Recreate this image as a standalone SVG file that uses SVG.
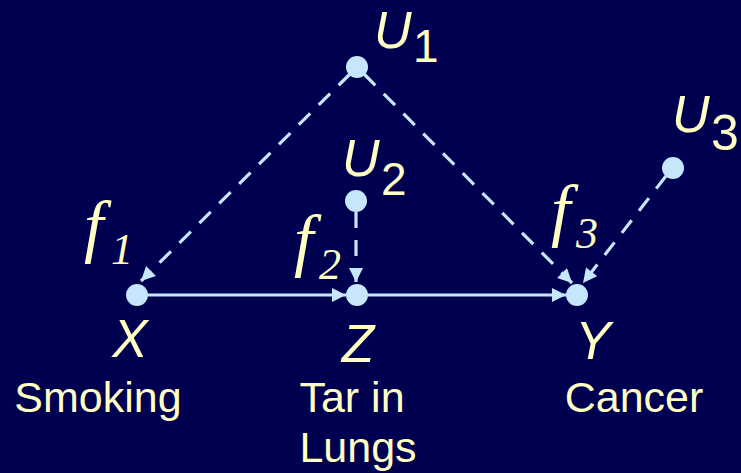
<svg xmlns="http://www.w3.org/2000/svg" width="741" height="473" viewBox="0 0 741 473">
<defs>
<style>
.node{fill:#c6e6fb}
.e{stroke:#c6e6fb;stroke-width:3.2;fill:none}
.d{stroke-dasharray:16 12}
.lab{fill:#ffffc4;font-family:"Liberation Sans",Arial,sans-serif}
.it{font-style:italic}
.f{fill:#ffffc4;font-family:"Liberation Serif","Times New Roman",serif;font-style:italic}
</style>
<marker id="ah" viewBox="0 0 10 10" refX="10" refY="5" markerWidth="4.8" markerHeight="4.4" orient="auto" markerUnits="strokeWidth">
<path d="M0,0 L10,5 L0,10 z" fill="#c6e6fb"/>
</marker>
</defs>
<rect width="741" height="473" fill="#000050"/>
<g id="connectors">
<line class="e d" x1="350" y1="74" x2="141" y2="281" marker-end="url(#ah)"/>
<line class="e d" x1="364" y1="74" x2="572" y2="283" marker-end="url(#ah)"/>
<line class="e d" x1="666" y1="176" x2="583" y2="283" marker-end="url(#ah)"/>
<line class="e d" x1="356" y1="212" x2="356" y2="282" marker-end="url(#ah)"/>
<line class="e" x1="148" y1="295" x2="346" y2="295" marker-end="url(#ah)"/>
<line class="e" x1="368" y1="295" x2="566" y2="295" marker-end="url(#ah)"/>
</g>
<g id="U1">
<circle class="node" cx="357" cy="67" r="11"/>
<text class="lab it" x="374" y="48" font-size="52">U</text>
<text class="lab" x="413" y="62" font-size="46">1</text>
</g>
<g id="U2">
<circle class="node" cx="356" cy="201" r="11"/>
<text class="lab it" x="342" y="176" font-size="52">U</text>
<text class="lab" x="381" y="195" font-size="46">2</text>
</g>
<g id="U3">
<circle class="node" cx="673" cy="168" r="11"/>
<text class="lab it" x="672" y="132" font-size="52">U</text>
<text class="lab" x="711" y="150" font-size="50">3</text>
</g>
<g id="X">
<circle class="node" cx="137" cy="295" r="11"/>
<text class="f" x="84" y="249" font-size="70">f</text>
<text class="f" x="111" y="264" font-size="44">1</text>
<text class="lab it" x="130" y="357" font-size="53" text-anchor="middle">X</text>
<text class="lab" x="98" y="412" font-size="43" text-anchor="middle">Smoking</text>
</g>
<g id="Z">
<circle class="node" cx="357" cy="295" r="11"/>
<text class="f" x="294" y="263" font-size="70">f</text>
<text class="f" x="319" y="279" font-size="44">2</text>
<text class="lab it" x="358" y="362" font-size="53" text-anchor="middle">Z</text>
<text class="lab" x="352" y="412" font-size="43" text-anchor="middle">Tar in</text>
<text class="lab" x="358" y="462" font-size="43" text-anchor="middle">Lungs</text>
</g>
<g id="Y">
<circle class="node" cx="577" cy="295" r="11"/>
<text class="f" x="551" y="233" font-size="70">f</text>
<text class="f" x="576" y="248" font-size="44">3</text>
<text class="lab it" x="593" y="359" font-size="53" text-anchor="middle">Y</text>
<text class="lab" x="634" y="412" font-size="43" text-anchor="middle">Cancer</text>
</g>
</svg>
